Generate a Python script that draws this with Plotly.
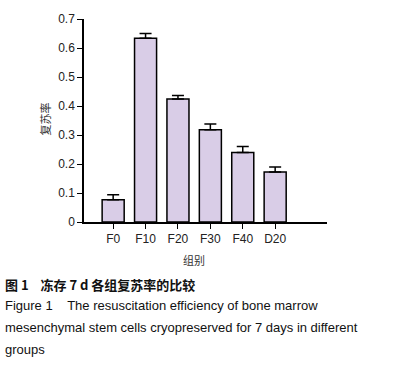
import plotly.graph_objects as go

categories = ["F0", "F10", "F20", "F30", "F40", "D20"]
values = [0.077, 0.634, 0.424, 0.318, 0.240, 0.172]
errors = [0.017, 0.016, 0.012, 0.020, 0.020, 0.018]
y_ticks = [0, 0.1, 0.2, 0.3, 0.4, 0.5, 0.6, 0.7]

FONT = "Liberation Sans, Arial, Noto Sans CJK SC, sans-serif"
CJK = "Noto Sans CJK SC, Liberation Sans, sans-serif"

W, H = 404, 370
L, R, T, B = 84, 327, 16, 222

def px(x):
    return (x - L) / (R - L)

def py(y):
    return (B - y) / (B - T)

fig = go.Figure()
fig.add_trace(go.Bar(
    x=list(range(len(categories))),
    y=values,
    width=0.68,
    marker=dict(color="#d9cde7", line=dict(color="#000000", width=1.5)),
    error_y=dict(type="data", symmetric=False, array=errors,
                 arrayminus=[0] * len(errors), color="#000000",
                 thickness=1.5, width=6),
))

fig.update_layout(
    width=W, height=H,
    margin=dict(l=L, r=W - R, t=T, b=H - B, pad=0),
    paper_bgcolor="white", plot_bgcolor="white",
    showlegend=False,
    font=dict(family=FONT, size=12, color="#222"),
    xaxis=dict(
        range=[-0.9, 6.6],
        tickmode="array",
        tickvals=list(range(len(categories))),
        ticktext=categories,
        showline=True, linecolor="#000", linewidth=1.5,
        ticks="outside", ticklen=5, tickcolor="#000", tickwidth=1.2,
        showgrid=False, zeroline=False,
        tickfont=dict(size=12, color="#222"),
    ),
    yaxis=dict(
        range=[0, 0.7],
        tickmode="array",
        tickvals=y_ticks,
        ticktext=[("%g" % v) for v in y_ticks],
        showline=True, linecolor="#000", linewidth=1.5,
        ticks="outside", ticklen=5, tickcolor="#000", tickwidth=1.2,
        showgrid=False, zeroline=False,
        tickfont=dict(size=12, color="#222"),
    ),
)

ann = [
    dict(text="组别", x=px(194), y=py(261), font=dict(family=CJK, size=11, color="#333")),
    dict(text="复苏率", x=px(45), y=py(118), textangle=-90, font=dict(family=CJK, size=11, color="#333")),
]
for a in ann:
    fig.add_annotation(xref="paper", yref="paper", showarrow=False,
                       xanchor="center", yanchor="middle", **a)

caption = [
    ("<b>图 1\u00a0\u00a0\u00a0\u00a0冻存 7 d 各组复苏率的比较</b>", 285),
    ("Figure 1\u00a0\u00a0\u00a0\u00a0The resuscitation efficiency of bone marrow", 307),
    ("mesenchymal stem cells cryopreserved for 7 days in different", 329),
    ("groups", 351),
]
for text, yy in caption:
    fig.add_annotation(xref="paper", yref="paper", showarrow=False,
                       x=px(3), y=py(yy), xanchor="left", yanchor="middle",
                       text=text, font=dict(family=CJK if "图" in text else FONT, size=13, color="#111"))

fig.write_html("out.html", config={"displayModeBar": False},
               post_script="document.body.style.margin='0';")
